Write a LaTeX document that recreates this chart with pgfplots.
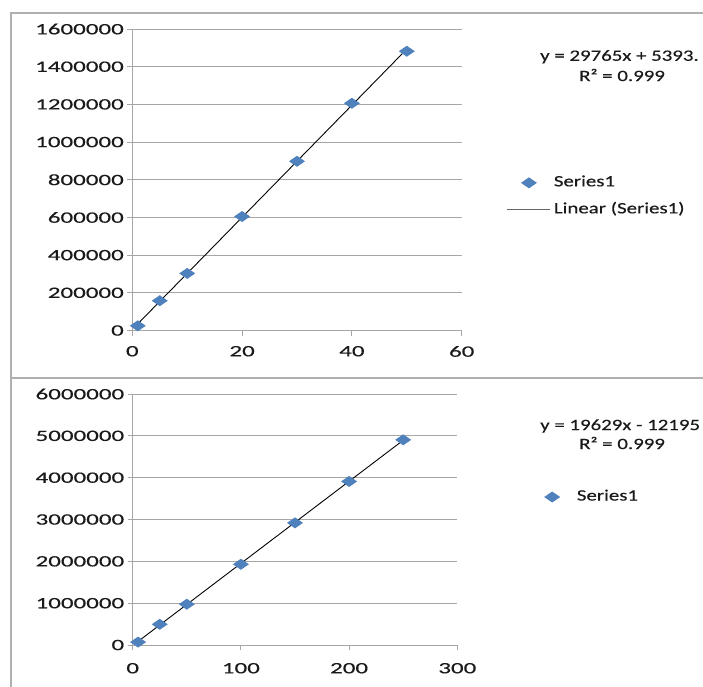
\documentclass[border=0pt]{standalone}
\usepackage{pgfplots}
\pgfplotsset{compat=1.18}
\usepackage{fontspec}
\newfontfamily\calfont{Carlito}[FakeStretch=1.32, FakeBold=0.35]
\newfontfamily\numfont{Carlito}[FakeStretch=1.58, FakeBold=0.35]
\newcommand\cf{\calfont\fontsize{15.8}{18}\selectfont}
\newcommand\nf{\numfont\fontsize{15.8}{18}\selectfont}
\definecolor{s1}{HTML}{4F81BD}
\definecolor{gridc}{HTML}{A6A6A6}
\definecolor{framec}{HTML}{B0B0B0}
\definecolor{txt}{HTML}{1A1A1A}
\pgfdeclareplotmark{wdiamond}{%
  \pgfpathmoveto{\pgfqpoint{8pt}{0pt}}%
  \pgfpathlineto{\pgfqpoint{0pt}{5.5pt}}%
  \pgfpathlineto{\pgfqpoint{-8pt}{0pt}}%
  \pgfpathlineto{\pgfqpoint{0pt}{-5.5pt}}%
  \pgfpathclose\pgfusepathqfill}
\pgfplotsset{
  excel/.style={
    scale only axis, clip=false,
    axis x line=bottom, axis y line=left,
    axis line style={gridc, line width=1pt, -},
    ymajorgrids, grid style={gridc, line width=1pt},
    tick align=outside, major tick length=5pt,
    tick style={gridc, line width=1pt},
    tick label style={font=\nf, text=txt},
    scaled ticks=false, scaled y ticks=false,
    legend style={draw=none, fill=none, font=\cf, text=txt, inner sep=0pt, outer sep=0pt,
      nodes={inner sep=0pt, text height=10pt, text depth=3pt}, column sep=3pt, row sep=14pt},
    legend cell align=left,
  },
  scat/.style={only marks, mark=wdiamond, color=s1, mark options={fill=s1},
    legend image code/.code={\path (0pt,0pt) (43pt,0pt);
      \draw[mark repeat=2,mark phase=2,##1] plot coordinates {(0pt,0pt)(21.5pt,0pt)(43pt,0pt)};}},
  trend/.style={black, line width=0.9pt, no marks,
    legend image code/.code={\draw[##1, gray!80!black] (0pt,0pt) -- (43pt,0pt);}},
}
\begin{document}
\begin{tikzpicture}
\useasboundingbox (0pt,0pt) rectangle (703pt,-686pt);
\draw[framec, line width=1.6pt] (11pt,-690pt) -- (11pt,-12.7pt) -- (710pt,-12.7pt);
\draw[framec, line width=1.6pt] (11pt,-378pt) -- (710pt,-378pt);

\begin{axis}[excel,
  at={(132.3pt,-330.5pt)}, anchor=south west,
  width=329.4pt, height=301.5pt,
  xmin=0, xmax=60, ymin=0, ymax=1600000,
  xtick={0,20,40,60}, xticklabels={0,20,40,60},
  ytick={0,200000,400000,600000,800000,1000000,1200000,1400000,1600000},
  yticklabels={0,200000,400000,600000,800000,1000000,1200000,1400000,1600000},
  xticklabel style={yshift=-7pt},
  legend style={at={(1.1375,0.445)}, anchor=west},
]
\addplot[scat] coordinates {(1,25000) (5,158000) (10,303000) (20,605000) (30,898000) (40,1206000) (50,1482000)};
\addlegendentry{Series1}
\addplot[trend] coordinates {(1,35158) (50,1493643)};
\addlegendentry{Linear (Series1)}
\end{axis}

\begin{axis}[excel,
  at={(132.7pt,-645pt)}, anchor=south west,
  width=324.6pt, height=251pt,
  xmin=0, xmax=300, ymin=0, ymax=6000000,
  xtick={0,100,200,300}, xticklabels={0,100,200,300},
  ytick={0,1000000,2000000,3000000,4000000,5000000,6000000},
  yticklabels={0,1000000,2000000,3000000,4000000,5000000,6000000},
  xticklabel style={yshift=-9.5pt},
  legend style={at={(1.2255,0.5896)}, anchor=west},
]
\addplot[scat] coordinates {(5,70000) (25,495000) (50,975000) (100,1930000) (150,2920000) (200,3910000) (250,4905000)};
\addlegendentry{Series1}
\addplot[trend, forget plot] coordinates {(5,85950) (250,4895055)};
\end{axis}

\node[anchor=west, inner sep=0pt, font=\cf, text=txt] at (540pt,-56.7pt) {y = 29765x + 5393.};
\node[anchor=west, inner sep=0pt, font=\cf, text=txt] at (579pt,-75pt) {R² = 0.999};
\node[anchor=west, inner sep=0pt, font=\cf, text=txt] at (540pt,-426pt) {y = 19629x - 12195};
\node[anchor=west, inner sep=0pt, font=\cf, text=txt] at (579pt,-443pt) {R² = 0.999};
\end{tikzpicture}
\end{document}
